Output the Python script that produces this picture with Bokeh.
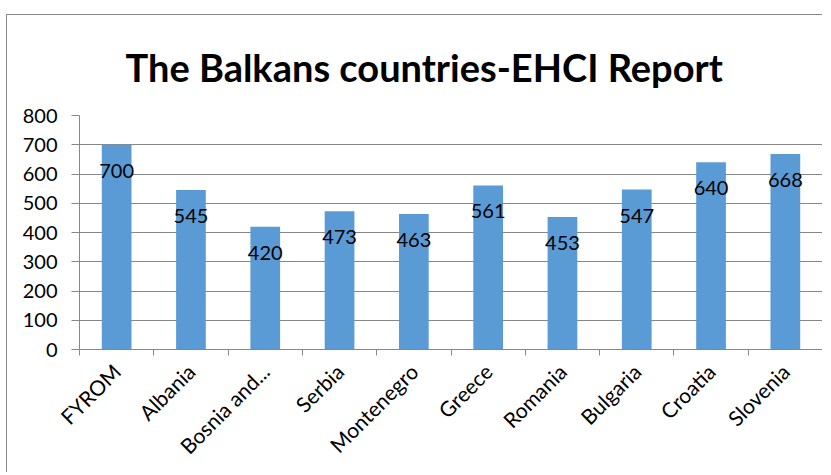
import math
from bokeh.plotting import figure
from bokeh.models import (Range1d, LinearAxis, FixedTicker,
                          ColumnDataSource, LabelSet, Title, SingleIntervalTicker)
from bokeh.core.properties import value
from bokeh.embed import file_html
from bokeh.resources import INLINE

countries = ["FYROM", "Albania", "Bosnia and...", "Serbia", "Montenegro",
             "Greece", "Romania", "Bulgaria", "Croatia", "Slovenia"]
scores = [700, 545, 420, 473, 463, 561, 453, 547, 640, 668]
title_text = "The Balkans countries-EHCI Report"

FONT = "Lato"
GRAY = "#878787"

n = len(countries)
centers = [i + 0.5 for i in range(n)]
bounds = [float(i) for i in range(n + 1)]
src = ColumnDataSource(dict(x=centers, v=scores, t=[str(s) for s in scores]))

p = figure(x_range=Range1d(0, n), y_range=Range1d(0, 800),
           width=816, height=458, output_backend="svg", toolbar_location=None,
           x_axis_type=None, min_border_left=72, min_border_right=1,
           min_border_top=98, min_border_bottom=124,
           styles={"border-left": "1px solid " + GRAY, "border-top": "1px solid " + GRAY},
           margin=(14, 0, 0, 6))
p.outline_line_color = None
p.background_fill_color = "white"
p.border_fill_color = "white"

p.vbar(x="x", top="v", width=0.4, source=src, color="#5B9BD5", line_color=None)

labels = LabelSet(x="x", y="v", text="t", source=src, y_offset=-26,
                  text_align="center", text_baseline="middle",
                  text_font=value(FONT), text_font_size=value("20px"), text_color="black")
p.add_layout(labels)

# y axis
ya = p.yaxis[0]
ya.ticker = SingleIntervalTicker(interval=100)
ya.axis_line_color = GRAY
ya.major_tick_line_color = GRAY
ya.major_tick_out = 8
ya.major_tick_in = 0
ya.minor_tick_line_color = None
ya.major_label_standoff = 14
ya.major_label_text_font = FONT
ya.major_label_text_font_size = "20px"
ya.major_label_text_color = "black"
p.ygrid.grid_line_color = GRAY
p.xgrid.grid_line_color = None

# x axis: names at category centres, tick marks (minor) at boundaries
xa = LinearAxis(ticker=FixedTicker(ticks=centers, minor_ticks=bounds),
                major_label_overrides={c: name for c, name in zip(centers, countries)},
                axis_line_color=GRAY,
                major_tick_line_color=None, major_tick_out=6, major_tick_in=0,
                minor_tick_line_color=GRAY, minor_tick_out=6, minor_tick_in=0,
                major_label_orientation=math.pi / 4,
                major_label_standoff=12,
                major_label_text_font=FONT,
                major_label_text_font_size="21px",
                major_label_text_color="black")
p.add_layout(xa, "below")

p.add_layout(Title(text=title_text, text_font=FONT, text_font_style="bold",
                   text_font_size="38px", align="left", offset=46, standoff=52,
                   text_color="black"), "above")

open("out.html", "w").write(file_html(p, INLINE))
